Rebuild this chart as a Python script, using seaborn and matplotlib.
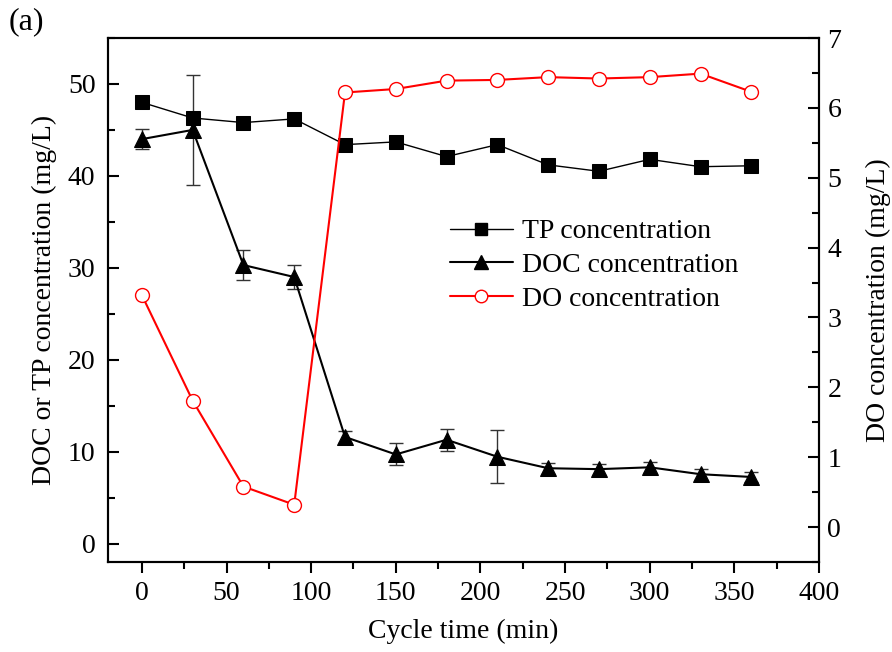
import numpy as np
import pandas as pd
import matplotlib
matplotlib.use("Agg")
import matplotlib.pyplot as plt
from matplotlib.ticker import MultipleLocator
from matplotlib.lines import Line2D
import seaborn as sns

time_min = [0, 30, 60, 90, 120, 150, 180, 210, 240, 270, 300, 330, 360]
tp_conc = [48.0, 46.3, 45.8, 46.2, 43.4, 43.7, 42.1, 43.4, 41.2, 40.5, 41.8, 41.0, 41.1]
doc_conc = [44.0, 45.0, 30.3, 29.0, 11.6, 9.7, 11.3, 9.45, 8.2, 8.1, 8.3, 7.55, 7.25]
doc_err = [1.1, 6.0, 1.6, 1.3, 0.7, 1.2, 1.2, 2.9, 0.6, 0.6, 0.6, 0.6, 0.5]
do_conc = [3.32, 1.81, 0.58, 0.32, 6.22, 6.27, 6.39, 6.40, 6.44, 6.42, 6.44, 6.49, 6.23]

df = pd.DataFrame({"time": time_min, "TP": tp_conc, "DOC": doc_conc,
                   "DOC_err": doc_err, "DO": do_conc})

sns.set_theme(style="ticks")
plt.rcParams['font.family'] = ['Liberation Serif', 'DejaVu Serif']
plt.rcParams['mathtext.fontset'] = 'stix'
for k in ['text.color', 'axes.labelcolor', 'xtick.color', 'ytick.color', 'axes.edgecolor']:
    plt.rcParams[k] = 'black'

fig = plt.figure(figsize=(8.92, 6.52), dpi=100)
ax = fig.add_axes([108/892, 1-562/652, (819-108)/892, (562-38)/652])
ax2 = ax.twinx()

fs = 20

# error bars for DOC
ax.errorbar(df["time"], df["DOC"], yerr=df["DOC_err"], fmt='none',
            ecolor='#333333', elinewidth=1.0, capsize=5, capthick=1.0, zorder=2)

sns.lineplot(data=df, x="time", y="TP", ax=ax, color='black', marker='s',
             markersize=10.5, linewidth=1.0, markeredgecolor='black', zorder=3)
sns.lineplot(data=df, x="time", y="DOC", ax=ax, color='black', marker='^',
             markersize=12, linewidth=1.5, markeredgecolor='black', zorder=3)
sns.lineplot(data=df, x="time", y="DO", ax=ax2, color='red', marker='o',
             markersize=10, linewidth=1.5, markerfacecolor='white',
             markeredgecolor='red', markeredgewidth=1.0, zorder=3)

ax.set_xlim(-20, 400)
ax.set_ylim(-2, 55)
ax2.set_ylim(-0.5, 7)

ax.xaxis.set_major_locator(MultipleLocator(50))
ax.xaxis.set_minor_locator(MultipleLocator(25))
ax.yaxis.set_major_locator(MultipleLocator(10))
ax.yaxis.set_minor_locator(MultipleLocator(5))
ax2.yaxis.set_major_locator(MultipleLocator(1))
ax2.yaxis.set_minor_locator(MultipleLocator(0.5))
ax.set_xticks([0, 50, 100, 150, 200, 250, 300, 350, 400])

ax.tick_params(axis='x', which='both', direction='out', top=False, labelsize=fs, width=1.5, pad=6)
ax.tick_params(axis='x', which='major', length=8)
ax.tick_params(axis='x', which='minor', length=5)
ax.tick_params(axis='y', which='both', direction='in', right=False, labelsize=fs, width=1.5, pad=9)
ax.tick_params(axis='y', which='major', length=8)
ax.tick_params(axis='y', which='minor', length=5)
ax2.tick_params(axis='y', which='both', direction='in', labelsize=fs, width=1.5, pad=6)
ax2.tick_params(axis='y', which='major', length=8)
ax2.tick_params(axis='y', which='minor', length=5)

for a in (ax, ax2):
    for s in a.spines.values():
        s.set_linewidth(1.5)
        s.set_color('black')

ax.set_xlabel("Cycle time (min)", fontsize=fs, labelpad=9)
ax.set_ylabel("DOC or TP concentration (mg/L)", fontsize=fs, labelpad=8)
ax2.set_ylabel("DO concentration (mg/L)", fontsize=fs, labelpad=18)

handles = [
    Line2D([], [], color='black', marker='s', markersize=9, linewidth=1.0),
    Line2D([], [], color='black', marker='^', markersize=10, linewidth=1.5),
    Line2D([], [], color='red', marker='o', markersize=9, linewidth=1.5,
           markerfacecolor='white', markeredgecolor='red'),
]
labels = ["TP concentration", "DOC concentration", "DO concentration"]
ax2.legend(handles, labels, loc='upper left', bbox_to_anchor=(0.453, 0.692),
           frameon=False, fontsize=fs, handlelength=2.3, handletextpad=0.3,
           labelspacing=0.3, borderpad=0.2)

fig.text(9/892, 1-22/652, "(a)", fontsize=23, va='center', ha='left')

fig.savefig("out.png", dpi=100)
